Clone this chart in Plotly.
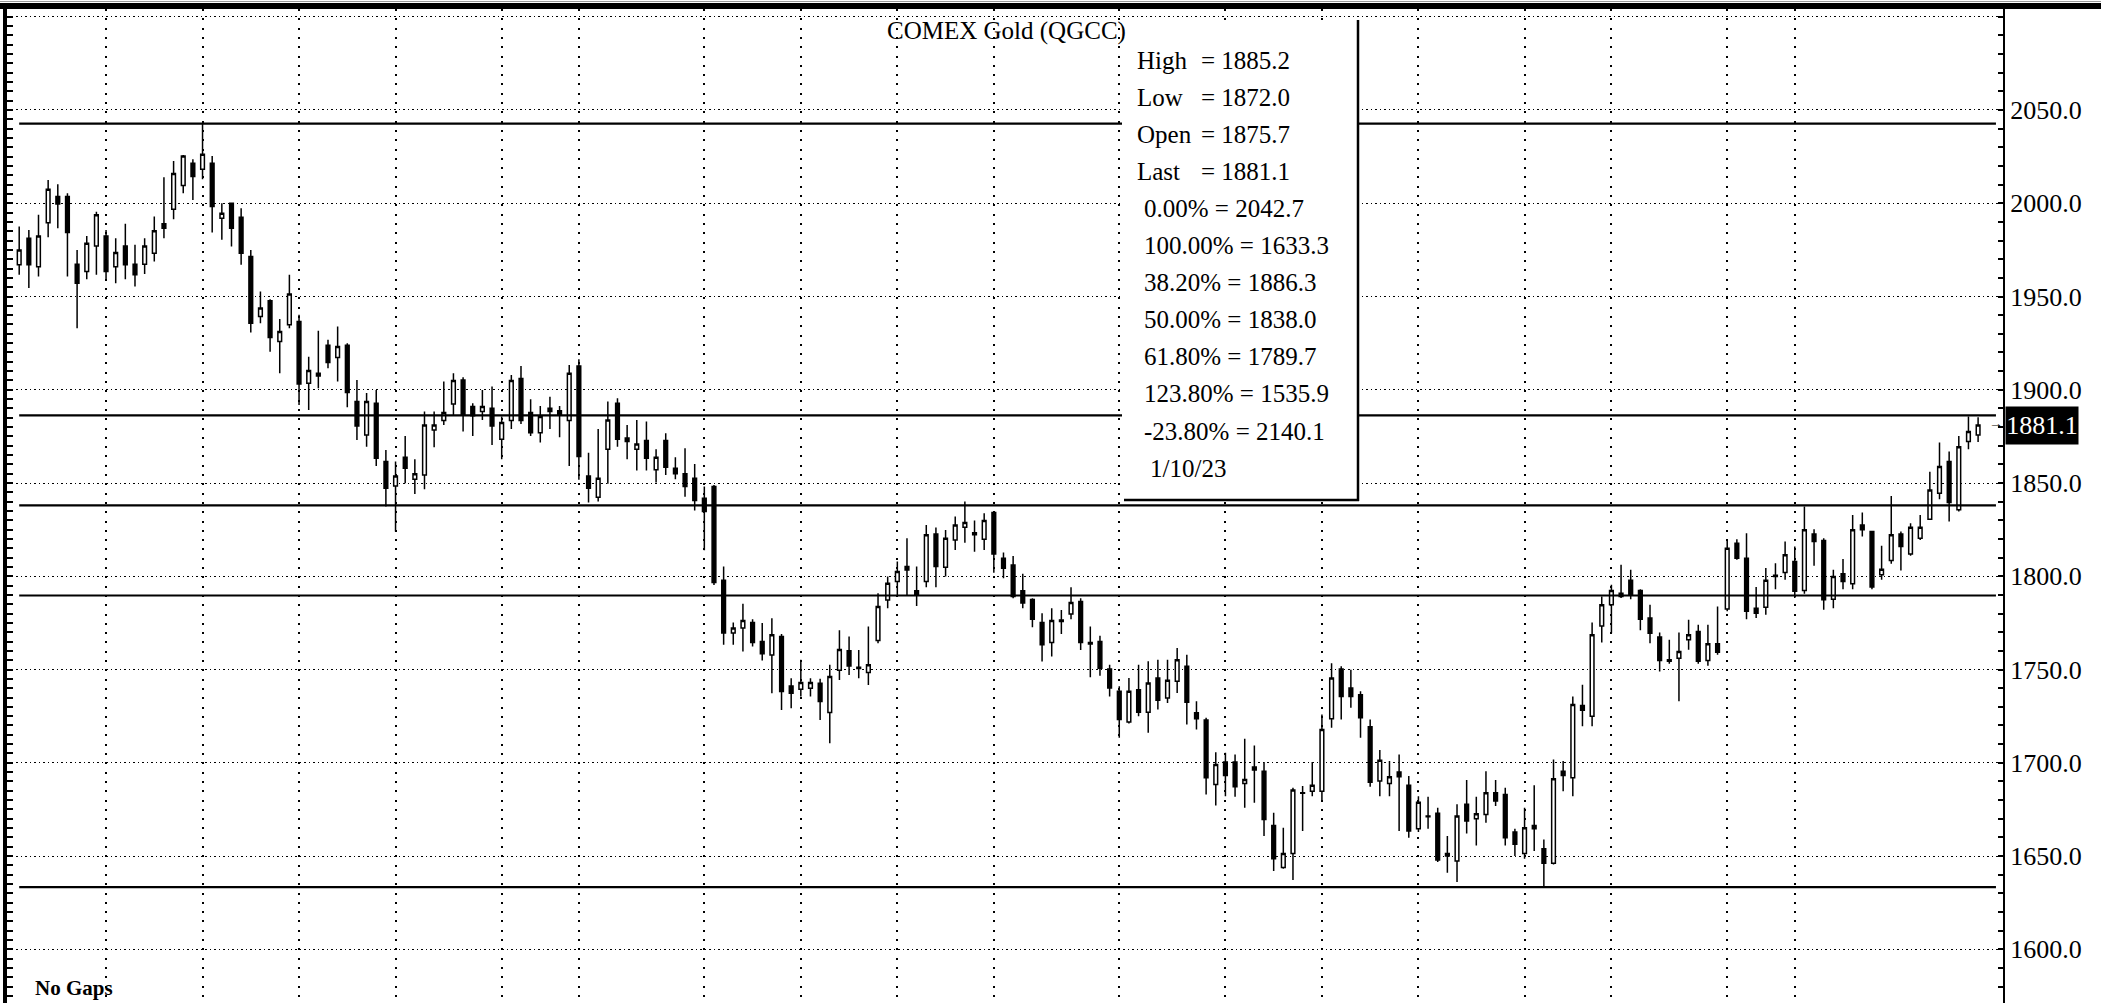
import plotly.graph_objects as go

# ---------------- data ----------------
opens = [1967.0, 1981.3, 1966.0, 1989.6, 2003.6, 2003.6, 1967.3, 1963.4, 1977.1, 1982.5,
         1966.0, 1977.1, 1967.3, 1967.3, 1973.2, 1989.0, 1996.8, 2009.5, 2021.4, 2018.2,
         2021.4, 1992.0, 2000.0, 1992.5, 1971.4, 1939.3, 1947.7, 1925.9, 1934.8, 1936.6,
         1903.5, 1908.8, 1923.8, 1917.3, 1923.8, 1893.7, 1875.8, 1892.8, 1861.5, 1848.4,
         1863.8, 1852.0, 1854.3, 1878.4, 1883.5, 1892.4, 1905.2, 1891.0, 1888.3, 1890.1,
         1873.5, 1883.5, 1906.1, 1887.8, 1877.0, 1890.1, 1888.8, 1883.5, 1912.8, 1853.8,
         1842.3, 1868.1, 1892.8, 1874.1, 1868.1, 1872.8, 1857.1, 1872.8, 1857.9, 1854.9,
         1852.5, 1841.8, 1848.1, 1797.8, 1769.6, 1772.3, 1775.2, 1765.0, 1757.8, 1767.7,
         1741.2, 1739.4, 1740.0, 1742.6, 1726.9, 1749.6, 1760.0, 1751.2, 1748.4, 1765.5,
         1787.3, 1797.2, 1805.3, 1792.3, 1797.2, 1822.7, 1804.9, 1819.4, 1826.3, 1823.3,
         1819.9, 1834.2, 1809.6, 1806.1, 1792.3, 1787.6, 1775.2, 1764.5, 1775.8, 1779.8,
         1786.5, 1764.5, 1765.0, 1750.3, 1738.3, 1721.8, 1739.2, 1727.1, 1745.4, 1734.7,
         1743.7, 1751.7, 1726.8, 1722.9, 1688.4, 1700.4, 1700.4, 1688.9, 1697.7, 1695.5,
         1666.4, 1643.8, 1651.4, 1683.6, 1684.8, 1684.8, 1723.6, 1750.3, 1740.1, 1736.5,
         1719.3, 1690.2, 1688.9, 1695.0, 1687.9, 1664.6, 1671.1, 1672.9, 1651.4, 1647.3,
         1677.7, 1670.0, 1672.3, 1683.9, 1683.0, 1662.9, 1651.4, 1666.4, 1653.9, 1646.1,
         1695.5, 1692.0, 1730.7, 1725.0, 1773.4, 1784.7, 1790.9, 1797.8, 1792.4, 1777.6,
         1767.4, 1755.3, 1756.1, 1765.9, 1770.4, 1754.9, 1763.8, 1782.4, 1817.7, 1809.7,
         1782.9, 1783.4, 1800.6, 1802.0, 1807.9, 1792.4, 1822.7, 1819.2, 1787.7, 1801.3,
         1796.0, 1827.5, 1824.0, 1800.8, 1808.5, 1822.6, 1812.0, 1820.4, 1830.6, 1844.5,
         1861.5, 1835.6, 1872.2, 1875.7]
highs = [1987.5, 1985.7, 1993.8, 2012.5, 2010.2, 2005.4, 1975.0, 1982.5, 1995.5, 1985.7,
         1981.3, 1989.0, 1977.7, 1981.3, 1992.9, 2013.9, 2022.7, 2025.9, 2023.6, 2042.7,
         2025.4, 2000.0, 2000.4, 1997.3, 1975.0, 1952.7, 1948.5, 1937.9, 1961.6, 1940.2,
         1917.7, 1931.6, 1926.8, 1933.9, 1925.0, 1905.2, 1898.2, 1899.9, 1867.7, 1861.5,
         1875.2, 1862.7, 1888.3, 1888.3, 1904.4, 1908.8, 1906.7, 1892.8, 1899.9, 1901.7,
         1885.6, 1907.9, 1912.8, 1894.9, 1891.3, 1896.3, 1891.3, 1913.3, 1916.4, 1866.2,
         1879.0, 1893.7, 1895.5, 1881.1, 1883.8, 1883.0, 1868.1, 1876.7, 1863.8, 1868.7,
         1860.2, 1848.1, 1849.0, 1805.3, 1775.2, 1785.2, 1777.0, 1774.9, 1777.5, 1769.0,
         1745.3, 1755.2, 1745.3, 1745.0, 1752.6, 1771.1, 1767.7, 1760.5, 1773.1, 1790.9,
         1799.9, 1807.9, 1820.4, 1805.3, 1827.5, 1826.1, 1824.8, 1832.0, 1840.1, 1829.9,
         1833.8, 1834.7, 1812.7, 1810.9, 1801.3, 1788.2, 1780.2, 1782.9, 1781.9, 1794.1,
         1788.2, 1773.1, 1768.1, 1752.6, 1741.0, 1745.4, 1752.6, 1754.4, 1755.3, 1755.3,
         1761.5, 1757.9, 1733.0, 1724.1, 1705.7, 1705.4, 1704.5, 1712.9, 1709.3, 1700.4,
         1673.2, 1665.2, 1686.6, 1687.5, 1700.4, 1725.9, 1753.4, 1751.7, 1749.9, 1738.3,
         1723.2, 1706.8, 1700.9, 1704.5, 1692.9, 1682.1, 1681.8, 1675.9, 1660.7, 1677.7,
         1690.7, 1681.8, 1695.5, 1690.7, 1686.6, 1664.6, 1675.9, 1687.9, 1658.9, 1701.8,
         1700.9, 1735.6, 1741.9, 1775.2, 1789.2, 1795.4, 1806.2, 1803.5, 1793.1, 1784.7,
         1769.9, 1766.0, 1769.9, 1776.7, 1774.0, 1774.0, 1783.8, 1819.9, 1819.9, 1823.1,
         1794.2, 1804.4, 1807.0, 1818.6, 1816.0, 1837.4, 1825.2, 1820.4, 1803.5, 1809.2,
         1832.9, 1834.2, 1824.4, 1816.3, 1843.1, 1824.0, 1828.4, 1832.9, 1856.1, 1871.7,
         1866.9, 1875.2, 1885.6, 1885.2]
lows = [1961.6, 1954.5, 1960.7, 1981.8, 1986.6, 1960.7, 1933.0, 1959.3, 1961.6, 1959.3,
        1957.1, 1959.3, 1955.4, 1962.0, 1968.8, 1981.3, 1991.4, 2005.4, 2001.8, 2012.9,
        1984.3, 1980.4, 1976.8, 1967.0, 1930.7, 1935.7, 1920.4, 1908.8, 1933.0, 1891.8,
        1889.2, 1900.8, 1911.5, 1904.4, 1890.6, 1873.1, 1869.5, 1859.1, 1837.4, 1824.0,
        1849.9, 1844.1, 1846.6, 1869.2, 1881.1, 1886.0, 1877.6, 1875.2, 1883.8, 1870.4,
        1862.7, 1879.0, 1881.6, 1875.2, 1871.7, 1879.0, 1874.5, 1859.1, 1851.8, 1839.6,
        1840.1, 1849.6, 1869.5, 1862.7, 1856.7, 1856.7, 1850.3, 1854.3, 1852.0, 1842.7,
        1835.2, 1814.0, 1795.3, 1763.3, 1763.3, 1759.6, 1762.4, 1754.8, 1737.3, 1728.3,
        1729.3, 1735.5, 1735.5, 1723.0, 1710.5, 1744.4, 1747.1, 1745.3, 1741.7, 1764.1,
        1782.9, 1789.1, 1789.5, 1784.1, 1794.1, 1794.1, 1799.9, 1814.1, 1818.0, 1813.2,
        1814.1, 1801.9, 1798.9, 1788.2, 1782.9, 1772.6, 1754.3, 1757.0, 1769.1, 1777.0,
        1760.5, 1745.8, 1746.6, 1735.6, 1713.4, 1721.1, 1725.0, 1716.1, 1728.6, 1732.0,
        1737.4, 1720.5, 1717.9, 1683.0, 1677.1, 1682.1, 1681.8, 1675.9, 1678.6, 1660.7,
        1642.0, 1643.2, 1637.1, 1663.4, 1682.1, 1679.5, 1718.8, 1723.2, 1729.5, 1713.4,
        1687.1, 1682.1, 1682.1, 1663.4, 1659.8, 1662.9, 1664.6, 1646.8, 1641.1, 1636.1,
        1662.1, 1655.7, 1667.9, 1676.8, 1655.7, 1650.0, 1648.6, 1652.7, 1633.3, 1645.5,
        1684.8, 1682.1, 1719.6, 1719.6, 1764.5, 1769.5, 1788.3, 1787.7, 1771.0, 1764.1,
        1749.0, 1753.1, 1733.0, 1760.6, 1753.1, 1752.0, 1757.9, 1781.2, 1808.8, 1777.0,
        1777.6, 1779.4, 1793.1, 1798.1, 1788.3, 1790.6, 1805.6, 1782.0, 1782.9, 1793.1,
        1793.1, 1821.3, 1793.1, 1798.1, 1806.7, 1803.1, 1811.0, 1819.5, 1830.2, 1841.3,
        1829.4, 1834.7, 1868.1, 1872.0]
closes = [1975.0, 1967.0, 1982.5, 2007.5, 1999.6, 1984.3, 1957.1, 1978.6, 1993.8, 1963.4,
          1973.6, 1967.0, 1961.6, 1977.1, 1985.2, 1986.6, 2016.0, 2025.4, 2014.3, 2026.3,
          1998.2, 1994.6, 1986.6, 1973.2, 1935.7, 1943.8, 1928.0, 1931.3, 1951.3, 1903.1,
          1910.3, 1907.4, 1914.6, 1923.2, 1898.5, 1880.6, 1893.7, 1863.3, 1847.2, 1853.8,
          1857.9, 1854.9, 1881.1, 1881.1, 1887.8, 1904.9, 1886.5, 1886.0, 1891.0, 1880.6,
          1882.4, 1904.9, 1883.5, 1877.0, 1885.6, 1888.3, 1886.5, 1908.8, 1864.2, 1847.2,
          1852.5, 1883.8, 1873.5, 1872.3, 1870.9, 1863.3, 1863.8, 1858.4, 1854.9, 1848.1,
          1840.6, 1834.7, 1796.6, 1769.6, 1772.3, 1776.3, 1764.5, 1758.4, 1768.6, 1738.2,
          1737.3, 1743.0, 1743.0, 1732.8, 1746.2, 1760.8, 1751.9, 1750.5, 1752.6, 1783.8,
          1796.3, 1802.5, 1803.4, 1790.0, 1822.2, 1805.3, 1820.4, 1827.5, 1828.8, 1822.3,
          1829.9, 1812.0, 1804.3, 1789.1, 1785.6, 1777.0, 1763.3, 1776.3, 1776.6, 1786.0,
          1764.5, 1763.7, 1750.7, 1740.1, 1723.2, 1738.3, 1727.1, 1742.8, 1733.5, 1744.2,
          1755.3, 1732.5, 1723.6, 1692.0, 1699.1, 1693.2, 1687.1, 1691.1, 1696.1, 1669.6,
          1648.6, 1651.4, 1685.4, 1683.9, 1687.9, 1717.9, 1745.4, 1735.6, 1735.6, 1724.1,
          1689.6, 1701.4, 1692.5, 1692.5, 1663.4, 1678.9, 1671.4, 1647.9, 1650.0, 1671.4,
          1668.8, 1672.7, 1683.9, 1679.5, 1659.8, 1656.3, 1665.2, 1664.6, 1646.1, 1691.4,
          1693.2, 1731.3, 1728.2, 1768.6, 1784.7, 1792.4, 1789.2, 1790.1, 1777.0, 1769.5,
          1754.9, 1754.4, 1759.7, 1768.6, 1754.4, 1763.8, 1759.2, 1815.0, 1809.7, 1781.2,
          1780.2, 1797.8, 1799.9, 1811.5, 1791.9, 1824.9, 1818.6, 1787.4, 1799.9, 1797.2,
          1824.9, 1824.9, 1794.2, 1803.8, 1822.2, 1816.0, 1826.3, 1826.3, 1846.3, 1858.8,
          1839.5, 1869.5, 1877.6, 1881.1]

grid_bars = [9, 19, 29, 39, 50, 58, 71, 81, 91, 101, 114, 125, 135, 145, 156, 165, 177, 184]
price_ticks = [1600, 1650, 1700, 1750, 1800, 1850, 1900, 1950, 2000, 2050, 2100]
tick_labels = ["1600.0", "1650.0", "1700.0", "1750.0", "1800.0", "1850.0",
               "1900.0", "1950.0", "2000.0", "2050.0", ""]
swing_high = 2042.7
swing_low = 1633.3
fib_ratios = [0.0, 1.0, 0.382, 0.5, 0.618, 1.238, -0.238]
title_text = "COMEX Gold (QGCC)"
last_date = "1/10/23"
footer_text = "No Gaps"

# ---------------- derived ----------------
n = len(closes)
x = list(range(n))
fib_levels = [swing_high - r * (swing_high - swing_low) for r in fib_ratios]

Y_RANGE = [1571.2, 2104.15]
X_RANGE = [-1.264, n - 1 + 2.58]
FONT = "Liberation Serif"

# pixel helpers for layout (plot area: x 7..2003, y 9..1003)
PL, PR, PT, PB = 7, 2003, 9, 1003
def pxx(px):
    return (px - PL) / (PR - PL)
def pxy(py):
    return 1 - (py - PT) / (PB - PT)

fig = go.Figure()

fig.add_trace(go.Candlestick(
    x=x, open=opens, high=highs, low=lows, close=closes,
    increasing=dict(line=dict(color="black", width=1.5), fillcolor="white"),
    decreasing=dict(line=dict(color="black", width=1.5), fillcolor="black"),
    whiskerwidth=0, showlegend=False, hoverinfo="skip",
))

# Fibonacci lines (only those inside the visible range are drawn)
fx, fy = [], []
for lvl in fib_levels:
    if Y_RANGE[0] < lvl < Y_RANGE[1]:
        fx += [0, n - 1 + 1.85, None]
        fy += [lvl, lvl, None]
fig.add_trace(go.Scatter(x=fx, y=fy, mode="lines", yaxis="y2",
                         line=dict(color="black", width=2.2),
                         showlegend=False, hoverinfo="skip"))

shapes = [
    # thick top border
    dict(type="rect", xref="paper", yref="paper", x0=-0.01, x1=1.06,
         y0=1.0, y1=1.0 + 6 / 994, fillcolor="black", line=dict(width=0), layer="above"),
    dict(type="line", xref="paper", yref="paper", x0=-0.01, x1=1.06,
         y0=1.0 + 7.5 / 994, y1=1.0 + 7.5 / 994, line=dict(color="#9a9a9a", width=1)),
    # info box
    dict(type="rect", xref="paper", yref="paper", x0=pxx(1122), x1=pxx(1358),
         y0=pxy(500), y1=pxy(20), fillcolor="white", line=dict(width=0), layer="above"),
    dict(type="line", xref="paper", yref="paper", x0=pxx(1358), x1=pxx(1358),
         y0=pxy(501), y1=pxy(20), line=dict(color="black", width=2.5), layer="above"),
    dict(type="line", xref="paper", yref="paper", x0=pxx(1124), x1=pxx(1359),
         y0=pxy(500), y1=pxy(500), line=dict(color="black", width=2.5), layer="above"),
]

annotations = []
# title
annotations.append(dict(text=title_text, xref="paper", yref="paper",
                        x=pxx(1006), y=pxy(31), xanchor="center", yanchor="middle",
                        showarrow=False, font=dict(family=FONT, size=25, color="black")))
# info box lines
row_y = [60 + k * 37.1 for k in range(12)]
ohlc_rows = [("High", highs[-1]), ("Low", lows[-1]), ("Open", opens[-1]), ("Last", closes[-1])]
for k, (lab, val) in enumerate(ohlc_rows):
    annotations.append(dict(text=lab, xref="paper", yref="paper", x=pxx(1135), y=pxy(row_y[k]),
                            xanchor="left", yanchor="middle", showarrow=False,
                            font=dict(family=FONT, size=25, color="black")))
    annotations.append(dict(text=f"= {val:.1f}", xref="paper", yref="paper", x=pxx(1199),
                            y=pxy(row_y[k]), xanchor="left", yanchor="middle", showarrow=False,
                            font=dict(family=FONT, size=25, color="black")))
for j, (r, lvl) in enumerate(zip(fib_ratios, fib_levels)):
    annotations.append(dict(text=f"{r * 100:.2f}% = {lvl:.1f}", xref="paper", yref="paper",
                            x=pxx(1142), y=pxy(row_y[4 + j]), xanchor="left", yanchor="middle",
                            showarrow=False, font=dict(family=FONT, size=25, color="black")))
annotations.append(dict(text=last_date, xref="paper", yref="paper", x=pxx(1148),
                        y=pxy(row_y[11]), xanchor="left", yanchor="middle", showarrow=False,
                        font=dict(family=FONT, size=25, color="black")))
# last price label on the axis
annotations.append(dict(text=f"{closes[-1]:.1f}", xref="paper", yref="y", x=pxx(2005),
                        y=closes[-1], xanchor="left", yanchor="middle", showarrow=False,
                        bgcolor="black", borderpad=1, width=70, height=35, valign="middle",
                        align="center",
                        font=dict(family=FONT, size=26, color="white")))
annotations.append(dict(text="→", xref="paper", yref="y", x=pxx(1996), y=closes[-1] + 1,
                        xanchor="center", yanchor="middle", showarrow=False,
                        font=dict(family=FONT, size=14, color="black")))
# footer
annotations.append(dict(text=f"<b>{footer_text}</b>", xref="paper", yref="paper",
                        x=pxx(33), y=pxy(988), xanchor="left", yanchor="middle",
                        showarrow=False, font=dict(family=FONT, size=21, color="black")))

fig.update_layout(
    width=2101, height=1003,
    margin=dict(l=PL, r=2101 - PR, t=PT, b=1003 - PB, autoexpand=False),
    paper_bgcolor="white", plot_bgcolor="white",
    boxgap=0.45,
    showlegend=False,
    xaxis=dict(range=X_RANGE, tickmode="array", tickvals=grid_bars, showticklabels=False,
               ticks="", showgrid=True, gridcolor="black", gridwidth=1.5,
               griddash="2px,7.3px", zeroline=False, showline=False,
               rangeslider=dict(visible=False), fixedrange=True),
    yaxis=dict(range=Y_RANGE, side="right", tickmode="array", tickvals=price_ticks,
               ticktext=tick_labels, showgrid=True, gridcolor="black", gridwidth=1.3,
               griddash="1.5px,3px", zeroline=False, showline=True, linecolor="black",
               linewidth=2, ticks="inside", ticklen=5, tickwidth=1.5, tickcolor="black",
               minor=dict(tick0=1600, dtick=10, ticks="inside", ticklen=5, tickwidth=1.5,
                          tickcolor="black", showgrid=False),
               tickfont=dict(family=FONT, size=26, color="black"), fixedrange=True),
    yaxis2=dict(range=Y_RANGE, overlaying="y", side="left", showticklabels=False,
                showgrid=False, zeroline=False, showline=True, linecolor="black",
                linewidth=4, ticks="inside", tickmode="linear", tick0=1600, dtick=5,
                ticklen=6, tickwidth=1.5, tickcolor="black", fixedrange=True),
    shapes=shapes,
    annotations=annotations,
)

fig.write_html("out.html", config={"displayModeBar": False},
               post_script="document.body.style.margin='0';document.body.style.overflow='hidden';")
